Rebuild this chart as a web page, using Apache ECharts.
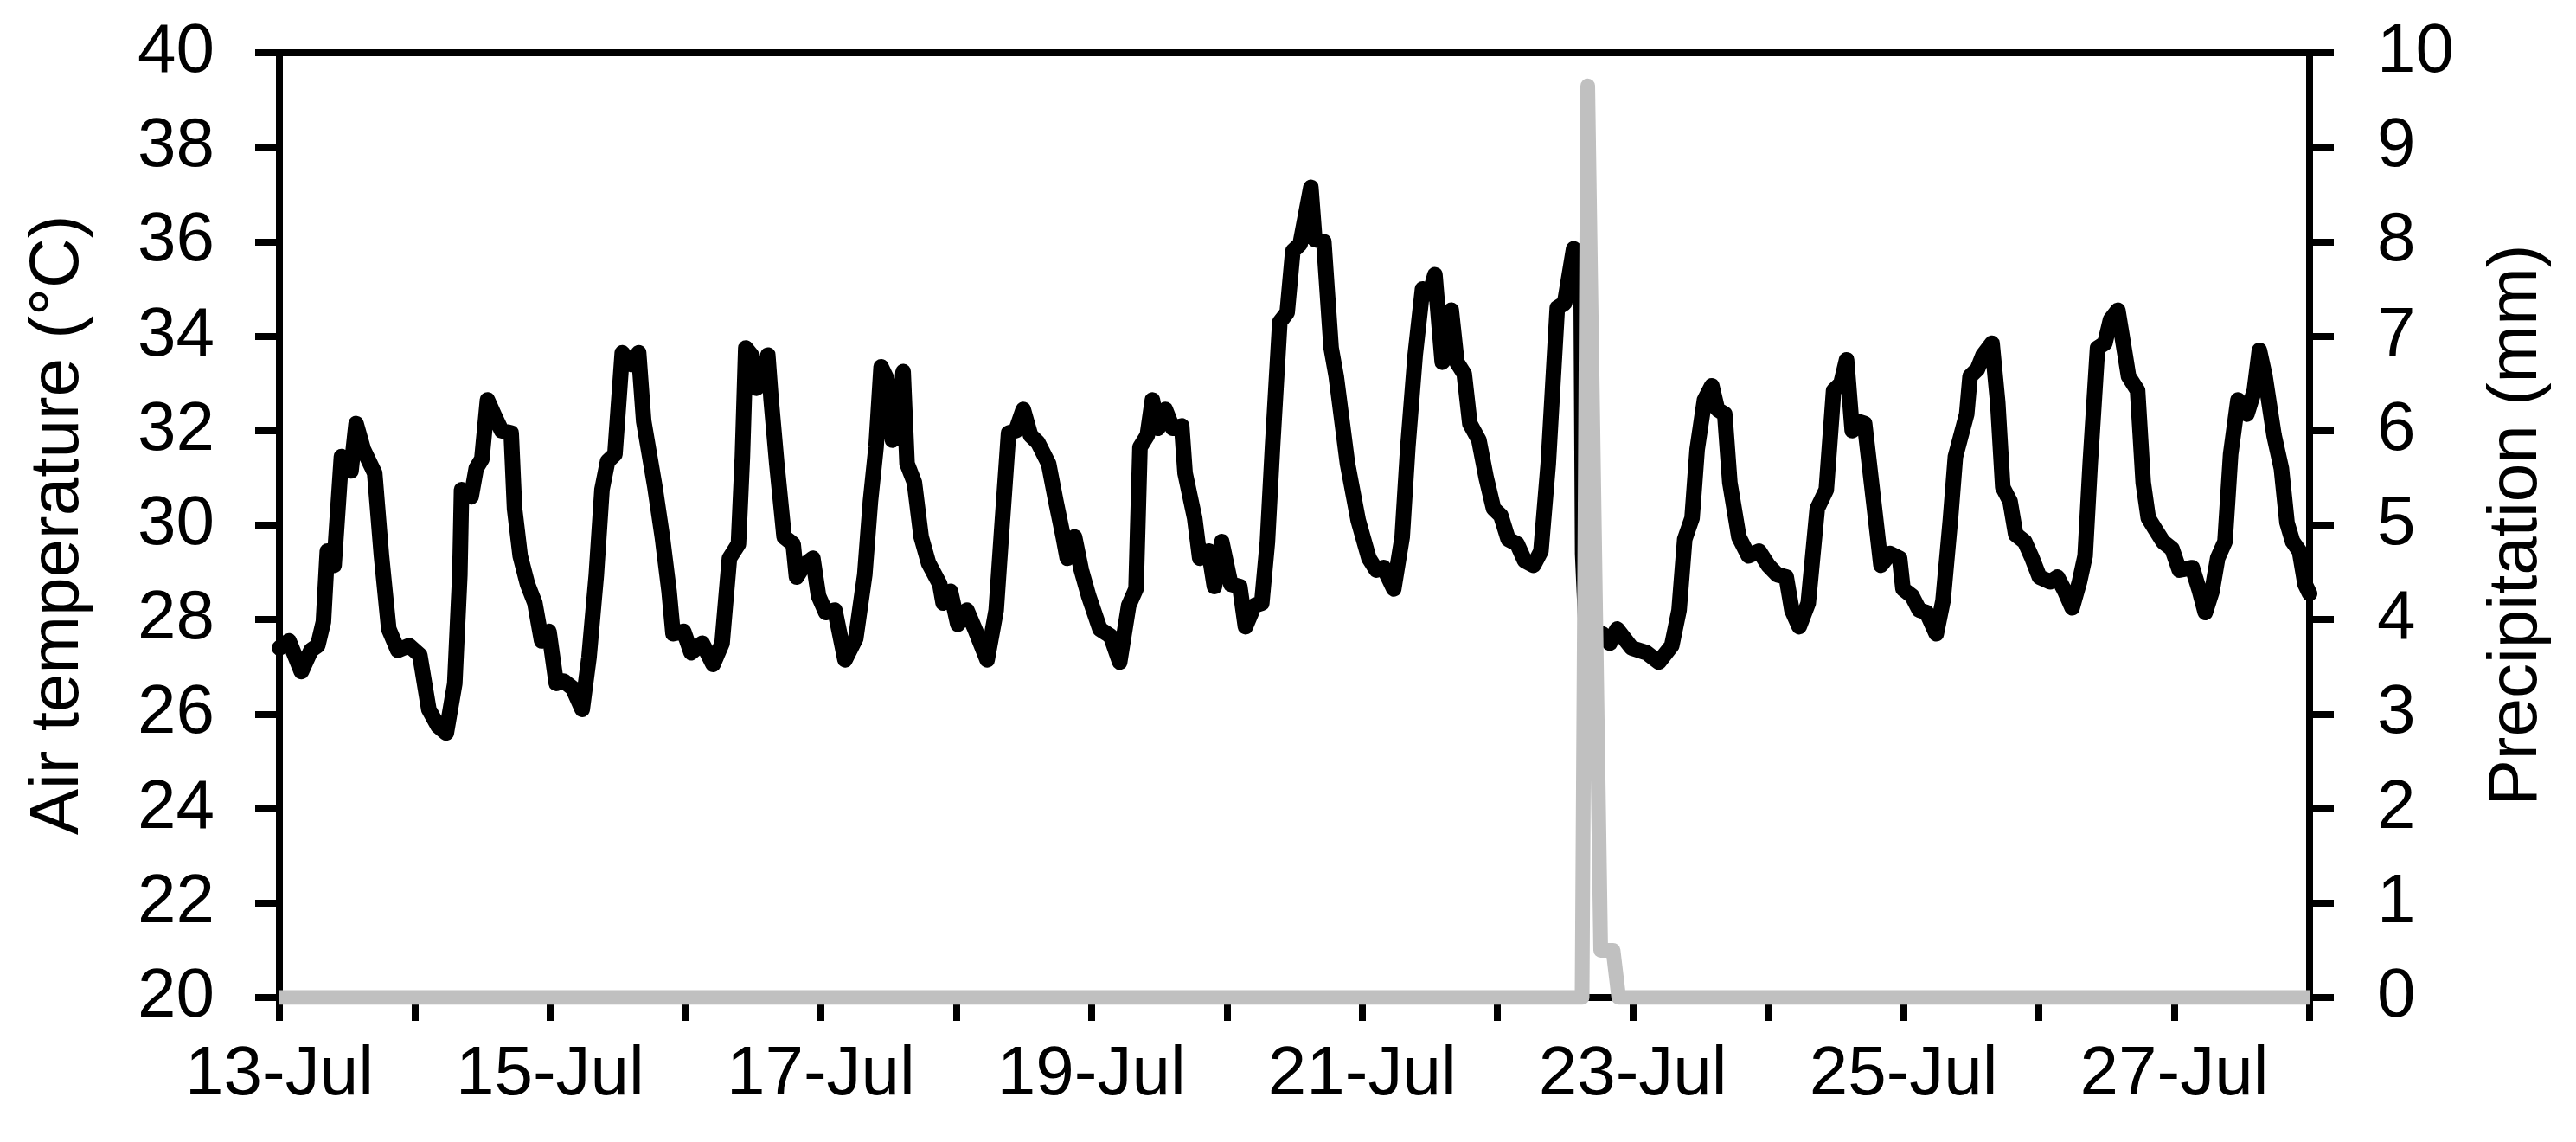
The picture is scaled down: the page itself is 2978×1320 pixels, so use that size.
<!DOCTYPE html>
<html>
<head>
    <meta charset="UTF-8">
    <title>Air temperature and precipitation</title>
    <script src="https://cdn.jsdelivr.net/npm/echarts@6/dist/echarts.min.js"></script>
    <style>
        html, body { margin: 0; padding: 0; background: #fff; }
        #main { width: 2978px; height: 1320px; }
    </style>
</head>
<body>
<div id="main"></div>
<script>
    // x in hours since 13-Jul 00:00
    var dateLabels = ['13-Jul', '', '15-Jul', '', '17-Jul', '', '19-Jul', '', '21-Jul', '', '23-Jul', '', '25-Jul', '', '27-Jul', ''];

    var tempHours = [0, 1.7, 3.9, 5.6, 6.8, 7.8, 8.5, 9.7, 11.0, 12.7, 13.6, 14.9, 16.9, 18.1, 19.4, 21.0, 23.0, 24.9, 26.5, 28.1,
        29.6, 31.1, 32.0, 32.3, 34.0, 34.9, 35.9, 36.9, 38.2, 39.4, 41.1, 41.7, 42.7, 44.0, 45.3, 46.5, 47.8, 49.1, 50.4, 52.0,
        53.7, 54.9, 56.2, 57.2, 58.2, 59.5, 60.8, 62.4, 63.7, 64.6, 66.6, 67.9, 69.1, 69.8, 71.7, 73.0, 75.0, 76.9, 78.5, 79.8,
        81.4, 82.1, 82.7, 83.7, 84.6, 85.6, 86.6, 87.2, 88.2, 89.5, 91.1, 91.7, 93.0, 94.6, 95.6, 96.9, 98.5, 100.3, 102.2, 103.8,
        104.8, 105.8, 106.7, 107.7, 108.7, 109.6, 110.6, 111.3, 112.6, 113.8, 115.1, 117.1, 117.7, 119.0, 120.3, 121.9, 123.5, 125.5, 127.1, 128.0,
        129.3, 130.6, 131.9, 133.2, 134.5, 136.4, 137.7, 139.0, 139.7, 141.0, 142.2, 143.5, 145.5, 147.4, 149.0, 150.6, 151.9, 152.6, 153.9, 154.8,
        155.8, 157.1, 158.4, 160.0, 160.6, 162.3, 163.2, 164.8, 165.8, 167.1, 168.7, 170.3, 171.3, 172.9, 174.2, 175.2, 176.1, 177.4, 178.7, 179.7,
        181.0, 182.9, 183.6, 185.2, 186.5, 187.4, 189.4, 191.3, 193.2, 194.5, 195.8, 197.6, 199.1, 200.1, 201.4, 202.7, 204.0, 204.9, 206.2, 207.2,
        207.8, 208.8, 210.1, 211.1, 212.7, 214.0, 215.3, 216.6, 217.9, 219.5, 220.8, 222.4, 223.7, 225.0, 226.6, 227.9, 229.5, 230.8, 231.1, 231.7,
        234.6, 235.9, 237.2, 239.8, 242.4, 244.6, 246.9, 248.2, 249.2, 250.5, 251.4, 252.7, 254.0, 255.0, 256.3, 257.2, 258.8, 260.5, 262.4, 264.0,
        265.6, 267.2, 268.2, 269.5, 271.1, 272.7, 274.3, 275.6, 276.9, 277.9, 278.9, 279.8, 281.1, 282.7, 284.0, 285.6, 287.3, 287.9, 289.5, 290.8,
        292.1, 293.8, 295.0, 296.3, 297.2, 298.2, 299.2, 299.8, 301.1, 302.1, 303.7, 304.7, 305.6, 306.9, 307.9, 309.5, 310.8, 312.1, 314.0, 315.3,
        316.6, 317.9, 319.2, 320.2, 321.1, 322.4, 323.7, 324.7, 326.0, 327.3, 327.9, 329.5, 330.5, 331.4, 332.7, 334.0, 335.6, 336.9, 339.2, 340.5,
        341.5, 342.7, 343.7, 345.0, 346.0, 347.3, 348.9, 350.2, 351.1, 352.1, 353.7, 355.0, 356.0, 357.0, 358.2, 359.2, 360];

    var tempValues = [27.4, 27.55, 26.9, 27.35, 27.45, 27.95, 29.45, 29.15, 31.45, 31.15, 32.15, 31.6, 31.1, 29.35, 27.8, 27.35, 27.45, 27.25, 26.1, 25.75,
        25.6, 26.65, 28.95, 30.75, 30.6, 31.2, 31.4, 32.65, 32.3, 32.0, 31.95, 30.35, 29.35, 28.75, 28.35, 27.55, 27.75, 26.65, 26.7, 26.55,
        26.1, 27.2, 28.95, 30.75, 31.35, 31.5, 33.65, 33.4, 33.65, 32.2, 30.8, 29.75, 28.6, 27.7, 27.75, 27.3, 27.5, 27.05, 27.5, 29.3,
        29.6, 31.45, 33.75, 33.6, 32.9, 33.0, 33.6, 32.65, 31.3, 29.75, 29.6, 28.9, 29.15, 29.3, 28.5, 28.15, 28.2, 27.15, 27.6, 28.95,
        30.5, 31.65, 33.35, 33.1, 31.8, 31.9, 33.25, 31.3, 30.9, 29.75, 29.2, 28.75, 28.35, 28.6, 27.9, 28.2, 27.75, 27.15, 28.2, 29.75,
        31.95, 32.0, 32.45, 31.9, 31.75, 31.3, 30.5, 29.75, 29.3, 29.75, 29.05, 28.5, 27.8, 27.65, 27.1, 28.3, 28.65, 31.65, 31.9, 32.65,
        32.05, 32.45, 32.05, 32.1, 31.1, 30.15, 29.3, 29.45, 28.7, 29.65, 28.75, 28.7, 27.85, 28.3, 28.35, 29.65, 31.65, 34.3, 34.5, 35.8,
        35.95, 37.15, 36.05, 36.0, 33.75, 33.15, 31.3, 30.1, 29.3, 29.05, 29.1, 28.65, 29.75, 31.65, 33.6, 35.0, 34.9, 35.3, 33.45, 33.6,
        34.55, 33.45, 33.2, 32.15, 31.8, 31.0, 30.35, 30.2, 29.7, 29.6, 29.25, 29.15, 29.45, 31.3, 34.6, 34.7, 35.85, 35.7, 29.4, 27.8,
        27.7, 27.5, 27.8, 27.4, 27.3, 27.1, 27.45, 28.2, 29.7, 30.15, 31.6, 32.65, 32.95, 32.45, 32.35, 30.9, 29.75, 29.35, 29.45, 29.15,
        28.95, 28.9, 28.2, 27.85, 28.35, 30.35, 30.75, 32.85, 33.0, 33.5, 32.0, 32.2, 32.15, 30.5, 29.15, 29.4, 29.3, 28.65, 28.5, 28.2,
        28.15, 27.7, 28.4, 30.1, 31.45, 31.9, 32.35, 33.15, 33.3, 33.6, 33.85, 32.6, 30.8, 30.5, 29.8, 29.65, 29.3, 28.9, 28.8, 28.9,
        28.6, 28.25, 28.8, 29.35, 31.3, 33.75, 33.85, 34.35, 34.55, 33.6, 33.15, 32.85, 30.9, 30.15, 29.9, 29.65, 29.5, 29.05, 29.1, 28.6,
        28.15, 28.6, 29.3, 29.65, 31.5, 32.65, 32.35, 32.85, 33.7, 33.15, 31.9, 31.2, 30.05, 29.65, 29.45, 28.75, 28.55];

    var precipHours = [0, 231, 232, 234.3, 236.5, 237.5, 360];
    var precipValues = [0, 0, 9.65, 0.5, 0.5, 0, 0];

    function zip(xs, ys) {
        var out = [];
        for (var i = 0; i < xs.length; i++) {
            out.push([xs[i], ys[i]]);
        }
        return out;
    }

    var FONT = '"Liberation Sans", Arial, sans-serif';
    var lbl = {color: '#000', fontSize: 80, fontFamily: FONT};

    var myChart = echarts.init(document.getElementById('main'));
    myChart.setOption({
        animation: false,
        backgroundColor: '#fff',
        grid: {
            left: 323, right: 308, top: 61, bottom: 167,
            show: true, borderColor: '#000', borderWidth: 8,
            containLabel: false, outerBoundsMode: 'none'
        },
        xAxis: {
            type: 'value',
            min: 0, max: 360, interval: 24,
            axisLine: {lineStyle: {color: '#000', width: 8}},
            axisTick: {length: 27, lineStyle: {color: '#000', width: 8}},
            axisLabel: {
                color: '#000', fontSize: 80, fontFamily: FONT, margin: 50,
                showMaxLabel: true, showMinLabel: true,
                formatter: function (v) {
                    return dateLabels[Math.round(v / 24)] || '';
                }
            },
            splitLine: {show: false}
        },
        yAxis: [{
            type: 'value',
            min: 20, max: 40, interval: 2,
            name: 'Air temperature (°C)',
            nameLocation: 'middle',
            nameRotate: 90,
            nameGap: 215,
            nameTextStyle: lbl,
            axisLine: {show: true, lineStyle: {color: '#000', width: 8}},
            axisTick: {show: true, length: 28, lineStyle: {color: '#000', width: 8}},
            axisLabel: {color: '#000', fontSize: 80, fontFamily: FONT, margin: 75},
            splitLine: {show: false}
        }, {
            type: 'value',
            position: 'right',
            min: 0, max: 10, interval: 1,
            name: 'Precipitation (mm)',
            nameLocation: 'middle',
            nameRotate: 90,
            nameGap: 200,
            nameTextStyle: lbl,
            axisLine: {show: true, lineStyle: {color: '#000', width: 8}},
            axisTick: {show: true, length: 28, lineStyle: {color: '#000', width: 8}},
            axisLabel: {color: '#000', fontSize: 80, fontFamily: FONT, margin: 78},
            splitLine: {show: false}
        }],
        series: [{
            name: 'Air temperature',
            type: 'line',
            yAxisIndex: 0,
            data: zip(tempHours, tempValues),
            showSymbol: false,
            lineStyle: {color: '#000', width: 18, join: 'round', cap: 'round'}
        }, {
            name: 'Precipitation',
            type: 'line',
            yAxisIndex: 1,
            data: zip(precipHours, precipValues),
            showSymbol: false,
            lineStyle: {color: '#c0c0c0', width: 17, join: 'round', cap: 'butt'}
        }]
    });
</script>
</body>
</html>
